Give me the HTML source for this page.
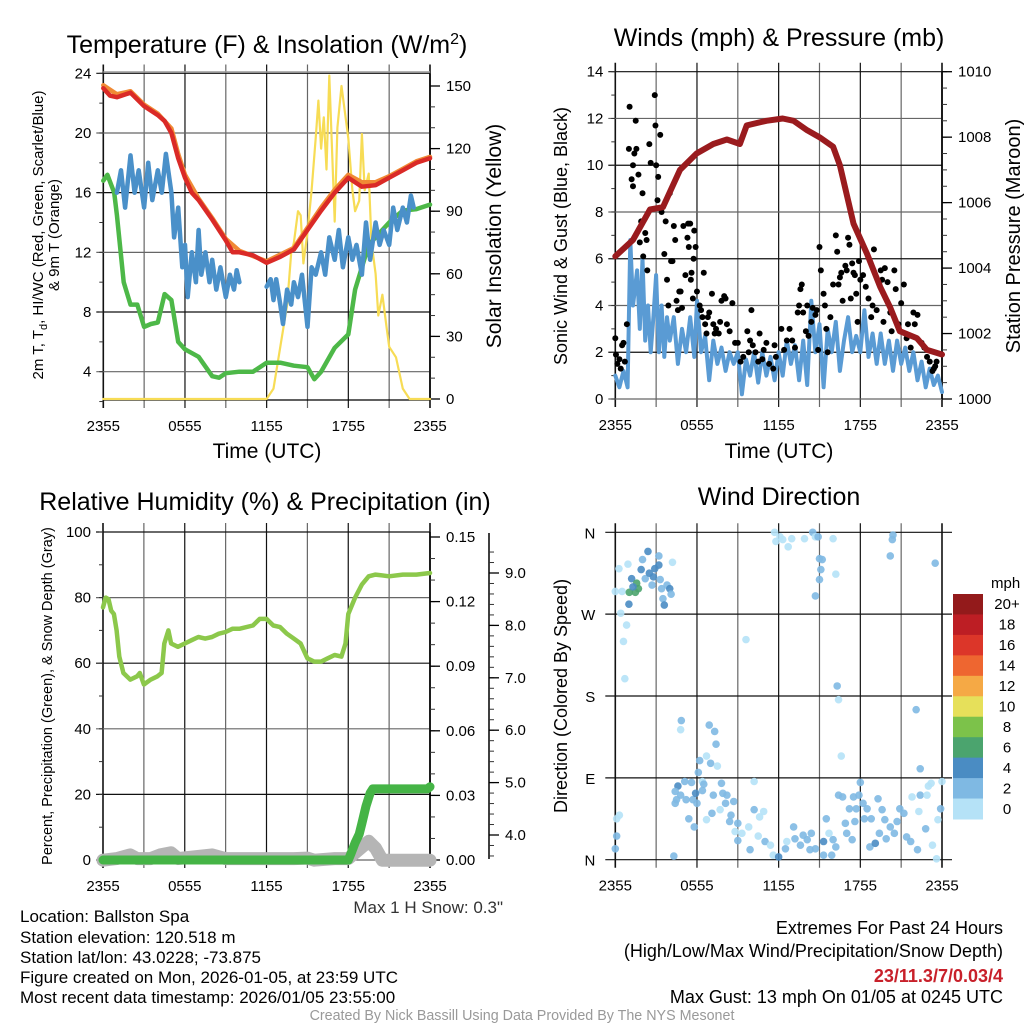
<!DOCTYPE html>
<html><head><meta charset="utf-8">
<style>
html,body{margin:0;padding:0;background:#fff;}
svg{display:block;font-family:"Liberation Sans",sans-serif;}
</style></head>
<body>
<svg id="fig" width="1024" height="1024" viewBox="0 0 1024 1024" xmlns="http://www.w3.org/2000/svg">
<rect width="1024" height="1024" fill="#fff"/>
<text x="267" y="53" font-size="25" text-anchor="middle">Temperature (F) &amp; Insolation (W/m<tspan dy="-9" font-size="16">2</tspan><tspan dy="9">)</tspan></text>
<text x="779" y="46" font-size="25" text-anchor="middle">Winds (mph) &amp; Pressure (mb)</text>
<text x="265" y="510" font-size="25" text-anchor="middle">Relative Humidity (%) &amp; Precipitation (in)</text>
<text x="779" y="505" font-size="25" text-anchor="middle">Wind Direction</text>

<g font-size="21" text-anchor="middle">
<text x="267" y="458">Time (UTC)</text>
<text x="779" y="458">Time (UTC)</text>
</g>
<g font-size="15" text-anchor="middle">
<text transform="translate(43,235) rotate(-90)">2m T, T<tspan dy="4" font-size="11">d</tspan><tspan dy="-4">, HI/WC (Red, Green, Scarlet/Blue)</tspan></text>
<text transform="translate(59,235) rotate(-90)">&amp; 9m T (Orange)</text>
<text transform="translate(52,696) rotate(-90)" font-size="14.5">Percent, Precipitation (Green), &amp; Snow Depth (Gray)</text>
</g>
<g font-size="21" text-anchor="middle">
<text transform="translate(501,236) rotate(-90)">Solar Insolation (Yellow)</text>
<text transform="translate(567,236) rotate(-90)" font-size="18">Sonic Wind &amp; Gust (Blue, Black)</text>
<text transform="translate(1020,236) rotate(-90)" font-size="20">Station Pressure (Maroon)</text>
<text transform="translate(567,696) rotate(-90)" font-size="18">Direction (Colored By Speed)</text>
</g>
<g id="layer"></g>
<g font-size="17" fill="#000">
<text x="20" y="922">Location: Ballston Spa</text>
<text x="20" y="943">Station elevation: 120.518 m</text>
<text x="20" y="963">Station lat/lon: 43.0228; -73.875</text>
<text x="20" y="983">Figure created on Mon, 2026-01-05, at 23:59 UTC</text>
<text x="20" y="1003">Most recent data timestamp: 2026/01/05 23:55:00</text>
<text x="503" y="913" text-anchor="end" fill="#333">Max 1 H Snow: 0.3"</text>
</g>
<g font-size="18" fill="#000">
<text x="1003" y="934" text-anchor="end">Extremes For Past 24 Hours</text>
<text x="1003" y="957" text-anchor="end">(High/Low/Max Wind/Precipitation/Snow Depth)</text>
<text x="1003" y="982" text-anchor="end" fill="#c8202a" font-weight="bold">23/11.3/7/0.03/4</text>
<text x="1003" y="1003" text-anchor="end">Max Gust: 13 mph On 01/05 at 0245 UTC</text>
</g>
<text x="522" y="1020" font-size="14.3" fill="#999" text-anchor="middle">Created By Nick Bassill Using Data Provided By The NYS Mesonet</text>
</svg>
<script>
// ---------- data ----------
const xTickLabels = ["2355","0555","1155","1755","2355"];
const tempLeftTicks = [4,8,12,16,20,24];
const solarTicks = [0,30,60,90,120,150];
const windTicks = [0,2,4,6,8,10,12,14];
const pressTicks = [1000,1002,1004,1006,1008,1010];
const rhTicks = [0,20,40,60,80,100];
const precipTicks = [0,0.03,0.06,0.09,0.12,0.15];
const precipTickLabels = ["0.00","0.03","0.06","0.09","0.12","0.15"];
const snowTicks = [4,5,6,7,8,9];
const dirTicks = [0,90,180,270,360];
const dirTickLabels = ["N","E","S","W","N"];
const speedBins = ["0","2","4","6","8","10","12","14","16","18","20+"];
const speedColors = ["#b5e2f7","#7fb9e3","#4a8cc3","#4ba46e","#7cc24a","#e6e05a","#f5a945","#ee6630","#dc3629","#bd1e24","#931a1b"];

const tempHours = [0,0.5,1,2,3,4,4.5,5,5.5,6,6.5,7,8,9,9.5,10,11,12,13,14,15,16,17,18,19,20,21,22,23,24];
const tempVals  = [23,22.5,22.4,22.7,21.8,21.2,20.8,20,18.3,17,16,15.5,14.2,12.8,12,12,11.8,11.3,11.7,12.2,13.5,14.8,16,17,16.4,16.5,17,17.5,18,18.3];
const t9Hours = [0,1,2,3,4,5,5.5,6,7,8,9,10,12,14,16,17,18,19,20,21,22,23,24];
const t9Vals  = [23.2,22.6,22.8,21.9,21.3,20.3,18.6,17.2,15.6,14.3,12.9,12.1,11.4,12.3,15,16.2,17.2,16.7,16.7,17.1,17.6,18.1,18.4];
const dewHours = [0,0.3,0.8,1,1.5,2,2.5,3,3.5,4,4.5,5,5.5,6,7,8,8.5,9,10,11,12,13,14,15,15.5,16,17,18,18.5,19,19.5,20,21,22,23,24];
const dewVals  = [16.8,17.2,16,14.5,10,8.5,8.5,7,7.2,7.3,9.2,8.8,6,5.5,5,3.7,3.6,3.9,4,4,4.6,4.6,4.4,4.3,3.5,4,5.6,6.5,9.5,11,12.5,13,14,14.8,14.9,15.2];
const wcHours1 = [1,1.3,1.6,2,2.3,2.6,3,3.3,3.6,4,4.3,4.6,5,5.2,5.5,5.8,6,6.2,6.5,6.8,7,7.2,7.5,7.8,8,8.3,8.6,9,9.3,9.6,9.8,10];
const wcVals1  = [16,17.5,15,18.5,16,17.5,15,18,15.5,17.5,16,18.6,16,13,15,11,12.5,9,12,10,13.5,10.5,12,10,11.5,9.5,11,9,10.5,9.5,10.8,10];
const wcHours2 = [12,12.3,12.5,12.7,13,13.2,13.5,13.8,14,14.3,14.6,15,15.3,15.6,16,16.3,16.6,17,17.3,17.6,18,18.3,18.6,19,19.3,19.6,20,20.3,20.6,21,21.3,21.6,22,22.3,22.6,22.8];
const wcVals2  = [9.7,10.2,8.8,10.2,8.5,7.2,9.5,8.5,10,9,10.5,7,11,10.5,12,10.5,13,11.5,13.5,11,13,11.5,12.5,10.5,14,11.5,14,12.5,13.5,12.5,15,13.5,15,14,15.8,15];
const solarHours = [0,12,12.5,13,13.5,13.8,14,14.3,14.5,14.7,15,15.3,15.6,15.8,16,16.2,16.4,16.6,16.8,17,17.2,17.5,18,18.3,18.5,18.8,19,19.2,19.5,19.7,20,20.2,20.5,20.8,21,21.5,22,22.5,24];
const solarVals  = [0,0,5,25,45,70,75,90,88,65,80,100,125,143,120,135,110,155,120,85,130,150,125,100,90,95,127,100,108,75,60,40,50,35,25,20,5,0,0];

const pressHours = [0,1.3,2.55,3.5,4.75,5.97,7.2,8.2,9.15,9.65,11.1,12.3,13.1,14.1,15,16,16.5,17.5,18.5,19.45,20.2,20.9,22.15,22.9,24];
const pressVals  = [1004.36,1004.86,1005.79,1005.86,1007.0,1007.5,1007.79,1007.93,1007.79,1008.36,1008.5,1008.57,1008.5,1008.21,1008.0,1007.71,1007.14,1005.36,1004.43,1003.43,1002.79,1002.07,1001.86,1001.5,1001.36];
const windHours = [0,0.3,0.6,0.9,1.1,1.3,1.6,1.8,2,2.2,2.4,2.6,2.8,3,3.2,3.4,3.6,3.8,4,4.3,4.6,4.9,5.2,5.5,5.8,6,6.3,6.6,6.9,7.2,7.5,7.8,8.1,8.4,8.7,9,9.3,9.6,9.9,10.2,10.5,10.8,11.1,11.4,11.7,12,12.3,12.6,12.9,13.2,13.5,13.8,14.1,14.4,14.7,15,15.3,15.6,15.9,16.2,16.5,16.8,17.1,17.4,17.7,18,18.3,18.6,18.9,19.2,19.5,19.8,20.1,20.4,20.7,21,21.3,21.6,21.9,22.2,22.5,22.8,23.1,23.4,23.7,24];
const windVals  = [1,0.5,1.2,0.5,6.8,4,5.5,3,6,2.5,4,2,3.5,5.3,2,4,1.8,3.5,2.5,3.5,1.5,3,2,3.5,1.8,4.2,2,2.7,0.8,2.5,1.5,2.2,1.2,2,1.5,2,0.2,1.7,1,2,0.7,2,1,1.8,0.8,2,1,2.5,1.5,2.3,0.8,2.5,0.6,4.2,2,3.2,0.5,3,2,3.3,1.2,2.5,3.5,2,2.7,2,3.8,1.8,2.8,1.5,2.8,1.5,2.5,1.2,2.5,1.5,2.2,1.2,2,0.8,1.6,0.5,1.3,0.6,1,0.3];
const gustHours = [0,0.05,0.15,0.3,0.4,0.5,0.6,0.7,0.85,1.0,1.05,1.2,1.3,1.3,1.4,1.5,1.55,1.7,1.8,1.9,2.0,2.05,2.2,2.3,2.35,2.5,2.6,2.9,2.95,3.0,3.1,3.15,3.3,3.4,3.6,3.7,3.8,3.9,4.0,4.1,4.2,4.3,4.4,4.5,4.6,4.7,4.8,4.9,5.0,5.15,5.3,5.35,5.4,5.5,5.55,5.6,5.7,5.75,5.8,5.9,6.0,6.2,6.3,6.4,6.5,6.6,6.7,6.8,6.9,7.1,7.2,7.3,7.4,7.6,7.7,7.8,8.0,8.1,8.2,8.4,8.6,8.8,9.0,9.2,9.4,9.7,9.8,9.9,10.0,10.1,10.3,10.5,10.6,10.8,10.9,11.1,11.3,11.6,11.7,11.8,12.2,12.4,12.6,12.8,13.0,13.2,13.4,13.5,13.6,13.7,13.8,14.0,14.1,14.2,14.4,14.5,14.7,14.8,14.9,15.0,15.1,15.3,15.4,15.5,15.6,15.8,16.0,16.2,16.3,16.4,16.5,16.6,16.7,16.9,17.0,17.1,17.2,17.3,17.4,17.5,17.6,17.7,17.8,17.9,18.0,18.2,18.4,18.6,18.8,18.9,19.0,19.2,19.4,19.5,19.6,19.7,19.8,20.0,20.2,20.3,20.5,20.6,20.8,21.0,21.2,21.4,21.5,21.7,21.9,22.0,22.2,22.5,22.7,22.9,23.1,23.3,23.4,23.5,23.6];
const gustVals  = [2.6,1.9,1.5,1.7,1.3,2.3,2.4,1.6,3.2,10.7,12.5,9.4,9.1,10.0,10.5,11.9,10.7,9.6,6.7,7.6,8.8,6.1,7.1,6.8,5.5,10.9,10.1,13,11.7,10,8.5,9.5,11.3,8,6.2,7.6,5.1,4,8.8,5.9,5.9,7.4,6.8,4.2,3.8,4.6,4.6,3.9,7.4,5.3,6.9,7.5,6.5,7.5,5.1,5.4,4.3,6.0,7.2,6.5,4.6,4.0,3.8,3.5,5.4,3.2,2.8,3.5,3.7,4.5,3.2,2.8,3.0,2.8,3.3,4.2,4.4,4.3,3.2,2.9,4.1,2.4,2.4,1.6,1.8,2.9,2.0,2.5,3.8,2.3,2.0,1.6,2.8,1.7,2.1,2.4,1.5,1.3,2.3,1.8,3.0,2.1,2.5,3.0,2.5,2.2,3.7,4.0,4.7,4.9,3.7,2.9,4.0,2.7,3.3,3.9,3.6,3.8,2.1,6.5,5.5,4.5,4.0,3.0,2.0,3.5,4.9,7.0,6.3,4.9,5.2,5.4,4.2,5.7,5.5,6.9,6.6,4.3,5.8,5.4,5.3,4.5,3.3,5.9,5.1,5.3,4.8,4.3,3.5,4.0,6.4,3.8,4.9,5.5,5.1,3.3,5.6,5.0,3.7,2.9,5.5,4.7,3.2,4.1,4.9,2.6,3.2,2.2,3.7,3.2,3.6,2.4,2.2,1.8,1.6,1.2,1.3,1.4,1.6];

const rhHours = [0,0.2,0.4,0.6,0.8,1.0,1.2,1.5,2,2.5,2.7,3,3.5,4,4.3,4.5,4.8,5,5.5,6,6.5,7,7.5,8,8.5,9,9.5,10,11,11.5,12,12.5,13,13.5,14,14.5,15,15.5,16,16.5,17,17.5,17.8,18,18.5,19,19.5,20,21,22,23,24];
const rhVals  = [77,80,79.5,76,75,70,62,57,55,56,57,53.5,55,56,57,66,70,66,65,66,67,68,67.5,68,69,69.5,70.5,70.5,71.5,73.5,73.5,71.5,71,69,67.5,66,61.5,60.5,60.5,61.5,62.5,62,66,75,80,84,86.5,87,86.5,87,87,87.5];
const precipHours = [0,18.0,18.2,18.5,18.8,19,19.3,19.6,19.8,23.8,24];
const precipVals  = [0,0,0.003,0.008,0.012,0.017,0.025,0.031,0.033,0.033,0.034];
const snowHours = [0,1,2,2.5,3.5,4.2,5,5.5,8,9,14,15,15.5,17,18,19.5,20,20.5,24];
const snowVals  = [3.52,3.55,3.62,3.55,3.55,3.62,3.66,3.55,3.62,3.55,3.55,3.56,3.52,3.55,3.55,3.88,3.75,3.52,3.52];

const dirHours = [0,0.27,0.93,0.5,0.4,0.83,0.6,0.7,1.0,1.03,1.2,1.47,1.57,1.7,1.3,1.9,2.0,2.2,2.4,2.5,2.7,2.8,2.9,3.2,3.2,3.3,3.4,3.5,3.6,3.8,4.0,4.1,4.2,4.3,0.1,0.3,0.1,0.0,4.85,4.8,4.6,4.4,4.5,4.4,4.8,5.1,5.2,5.4,5.6,5.7,5.8,5.9,6.0,6.1,6.2,6.4,6.5,6.4,6.7,6.7,6.9,7.0,7.1,7.2,7.3,7.4,7.5,7.7,7.8,7.9,8.1,8.2,8.4,8.5,8.7,8.8,9.0,9.0,9.3,9.6,9.8,9.9,10.2,10.2,10.5,10.6,10.9,11.0,11.4,11.6,12.0,12.5,12.6,13.1,13.2,13.6,13.8,14.1,14.3,14.4,14.7,15.3,15.5,15.7,15.3,15.9,16.0,16.2,16.4,16.7,16.9,17.0,17.2,17.4,17.5,17.6,17.7,17.9,18.0,18.2,18.3,18.5,18.7,18.8,19.1,19.3,19.4,19.6,19.8,19.9,20.2,20.5,20.7,20.9,21.2,21.4,21.7,21.8,22.2,22.3,22.4,22.4,22.8,22.9,23.0,23.2,23.3,23.6,23.7,23.9,24,22.1,11.7,11.8,12.1,12.3,12.7,12.96,13.9,14.5,14.7,14.9,15.0,15.2,15.1,15.0,14.7,16.0,16.2,16.3,16.4,16.6,20.2,20.35,20.4,23.5];
const dirDegs  = [295,320,325,295,271,258,240,199,281,294,309,294,304,298,300,319,330,309,339,315,302,311,320,334,324,308,298,287,280,302,298,292,327,4,45,49,26,12,153,143,81,75,66,62,71,86,66,45,85,66,36,73,62,96,109,86,83,76,44,114,148,106,51,71,141,127,103,55,84,73,62,71,42,49,64,31,40,21,29,242,36,11,86,55,26,47,53,20,16,5,3,12,20,36,23,16,27,22,11,29,12,20,45,29,5,5,22,14,71,69,40,29,56,22,69,42,56,71,85,62,45,56,14,45,18,67,29,55,44,23,36,29,42,56,51,25,20,69,11,53,71,100,34,71,81,84,16,1,44,56,86,165,360,350,355,352,344,353,353,360,355,355,331,330,319,308,290,353,314,191,176,114,334,352,357,326];
const dirSpeed = [0,0,0,0,0,0,0,0,2,3,2,3,3,3,2,2,1,1,2,2,1,2,2,1,2,1,1,1,2,1,2,1,0,1,0,0,1,1,1,0,2,1,1,1,1,1,1,1,1,1,1,2,1,1,1,0,1,1,0,0,1,1,1,1,1,1,0,0,1,1,1,1,1,1,1,0,1,1,0,0,0,1,0,1,0,0,0,1,0,0,2,1,0,1,1,1,1,1,1,1,1,2,1,0,1,1,1,1,1,1,1,1,1,1,1,1,1,1,1,1,1,1,1,1,2,1,1,1,1,1,1,1,1,1,1,1,1,0,1,0,1,1,1,0,0,0,0,0,0,1,0,1,0,0,0,0,0,0,0,1,0,1,1,1,1,1,1,0,0,1,0,0,1,1,1,1,0];

// ---------- helpers ----------
const NS = "http://www.w3.org/2000/svg";
const layer = document.getElementById("layer");
function mk(tag, attrs, parent){
  const e = document.createElementNS(NS, tag);
  for (const k in attrs) e.setAttribute(k, attrs[k]);
  (parent||layer).appendChild(e);
  return e;
}
function lin(d0,d1,r0,r1){ return v => r0 + (v-d0)*(r1-r0)/(d1-d0); }
function pathFrom(hs, vs, sx, sy){
  let d = "";
  for (let i=0;i<hs.length;i++){ d += (i?"L":"M") + sx(hs[i]).toFixed(1) + "," + sy(vs[i]).toFixed(1); }
  return d;
}
function frame(p, name){
  const sx = lin(0,24,p.x0,p.x1);
  for (let h=0; h<=24; h+=3){
    const l = mk("line",{x1:sx(h),x2:sx(h),y1:p.yt-9,y2:p.yb+8,stroke:(h%6===0)?"#111":"#666","stroke-width":(h===0||h===24)?1.6:1.2});
    
    
  }
  for (let i=0;i<xTickLabels.length;i++){
    const t = mk("text",{x:sx(i*6),y:p.yb+31,"font-size":15,"text-anchor":"middle"});
    t.textContent = xTickLabels[i];
    
    
  }
  return sx;
}
function hgrid(p, ticks, sy, labels, name, grid){
  ticks.forEach((v,i)=>{
    const y = sy(v);
    const l = mk("line",{x1:p.x0-7,x2:grid?p.x1:p.x0,y1:y,y2:y,stroke:(i%2)?"#111":"#666","stroke-width":1.2});
    
    
    const t = mk("text",{x:p.x0-12,y:y+5,"font-size":15,"text-anchor":"end"});
    t.textContent = labels ? labels[i] : v;
    
    
  });
}
function rightAxis(x, ticks, sy, labels, name, minorStep, lo, hi, yb, yt){
  const ax = mk("line",{x1:x,x2:x,y1:yt,y2:yb,stroke:"#000","stroke-width":1.5});
  
  
  for (let v=lo; v<=hi+1e-9; v+=minorStep){
    const y = sy(v);
    if (y<yt-0.5 || y>yb+0.5) continue;
    const m = mk("line",{x1:x,x2:x+5,y1:y,y2:y,stroke:"#333","stroke-width":1});
    
    
  }
  ticks.forEach((v,i)=>{
    const y = sy(v);
    const m = mk("line",{x1:x,x2:x+10,y1:y,y2:y,stroke:"#000","stroke-width":1.3});
    
    
    const t = mk("text",{x:x+16,y:y+5,"font-size":15});
    t.textContent = labels ? labels[i] : v;
    
    
  });
}
function line(hs, vs, sx, sy, color, w, name){
  const p = mk("path",{d:pathFrom(hs,vs,sx,sy),fill:"none",stroke:color,"stroke-width":w,"stroke-linejoin":"round","stroke-linecap":"round"});
  
  
  return p;
}
function leftMinor(p, sy, lo, hi, step, name){
  for (let v=lo; v<=hi+1e-9; v+=step){
    const m = mk("line",{x1:p.x0-4,x2:p.x0,y1:sy(v),y2:sy(v),stroke:"#333","stroke-width":1});
    
    
  }
}

// ---------- Panel 1: temperature ----------
const P1 = {x0:103.3,x1:430,yt:73.5,yb:400};
const sx1 = frame(P1,"temp");
const syT = lin(4,24,371.7,73.3);
const syS = lin(0,150,399,86);
hgrid(P1,tempLeftTicks,syT,null,"temp",true);
leftMinor(P1,syT,2,24,2,"temp");
mk("line",{x1:P1.x0,x2:P1.x1,y1:72,y2:72,stroke:"#999","stroke-width":1.5});
mk("line",{x1:P1.x0,x2:P1.x1,y1:P1.yb,y2:P1.yb,stroke:"#000","stroke-width":1.2});
rightAxis(P1.x1,solarTicks,syS,null,"solar",10,0,150,P1.yb,P1.yt);
line(solarHours,solarVals,sx1,syS,"#f7dc55",2.2,"solar-insolation-line");
line(dewHours,dewVals,sx1,syT,"#4db848",4.5,"dewpoint-line");
line(wcHours1,wcVals1,sx1,syT,"#4a90c9",4.5,"windchill-line-a");
line(wcHours2,wcVals2,sx1,syT,"#4a90c9",4.5,"windchill-line-b");
line(t9Hours,t9Vals,sx1,syT,"#f08a35",4.5,"temp-9m-line");
line(tempHours,tempVals,sx1,syT,"#da2a27",4.5,"temp-2m-line");

// ---------- Panel 2: winds ----------
const P2 = {x0:615.3,x1:942,yt:71.7,yb:399};
const sx2 = frame(P2,"wind");
const syW = lin(0,14,399,71.7);
const syP = lin(1000,1010,399,71.7);
hgrid(P2,windTicks,syW,null,"wind",true);
leftMinor(P2,syW,0,14,1,"wind");
rightAxis(P2.x1,pressTicks,syP,null,"pressure",0.5,1000,1010,P2.yb,P2.yt);
line(windHours,windVals,sx2,syW,"#5a9bd4",4,"sonic-wind-line");
gustHours.forEach((h,i)=>{
  const c = mk("circle",{cx:sx2(h),cy:syW(gustVals[i]),r:3,fill:"#000"});
  
  
});
line(pressHours,pressVals,sx2,syP,"#9a1b1e",6,"pressure-line");

// ---------- Panel 3: humidity ----------
const P3 = {x0:103,x1:430,yt:532,yb:860};
const sx3 = frame(P3,"rh");
const syR = lin(0,100,860,532);
const syPr = lin(0,0.15,860,537);
const sySn = lin(4,9,835,573);
hgrid(P3,rhTicks,syR,null,"rh",true);
leftMinor(P3,syR,0,100,10,"rh");
rightAxis(P3.x1,precipTicks,syPr,precipTickLabels,"precip",0.01,0,0.15,P3.yb,P3.yt);
rightAxis(489,snowTicks,sySn,snowTicks.map(v=>v.toFixed(1)),"snow",0.2,3.6,9.4,859,533);
line(snowHours,snowVals,sx3,sySn,"#b5b5b5",13,"snow-depth-line");
line(rhHours,rhVals,sx3,syR,"#8cc84b",4.5,"humidity-line");
line(precipHours,precipVals,sx3,syPr,"#45b446",9,"precipitation-line");

// ---------- Panel 4: wind direction ----------
const P4 = {x0:615.3,x1:942,yt:532.3,yb:859.7};
const sx4 = lin(0,24,P4.x0,P4.x1);
for (let h=0; h<=24; h+=3){
  const l = mk("line",{x1:sx4(h),x2:sx4(h),y1:P4.yt-9,y2:P4.yb+8,stroke:(h%6===0)?"#111":"#666","stroke-width":(h===0||h===24)?1.6:1.2});
  
  
}
for (let i=0;i<xTickLabels.length;i++){
  const t = mk("text",{x:sx4(i*6),y:P4.yb+31,"font-size":15,"text-anchor":"middle"});
  t.textContent = xTickLabels[i];
  
  
}
const syD = lin(0,360,859.7,532.3);
dirTicks.forEach((v,i)=>{
  const y = syD(v);
  const l = mk("line",{x1:P4.x0-10,x2:P4.x1+10,y1:y,y2:y,stroke:"#111","stroke-width":1.2});
  
  
  const t = mk("text",{x:P4.x0-20,y:y+6,"font-size":15,"text-anchor":"end"});
  t.textContent = dirTickLabels[i];
  
  
});
dirHours.forEach((h,i)=>{
  const c = mk("circle",{cx:sx4(h),cy:syD(dirDegs[i]),r:3.8,fill:speedColors[dirSpeed[i]],"fill-opacity":0.9});
  
  
});
// colorbar
const cbTop = 594, cbH = 225/11;
const mphT = mk("text",{x:991,y:588,"font-size":15});
mphT.textContent = "mph";


speedBins.forEach((lab,i)=>{
  const k = speedBins.length-1-i;
  const y = cbTop + i*cbH;
  const r = mk("rect",{x:953,y:y,width:30,height:cbH+0.5,fill:speedColors[k]});
  
  
  const t = mk("text",{x:1007,y:y+cbH/2+5,"font-size":15,"text-anchor":"middle"});
  t.textContent = speedBins[k];
  
  
});
</script>
</body></html>
